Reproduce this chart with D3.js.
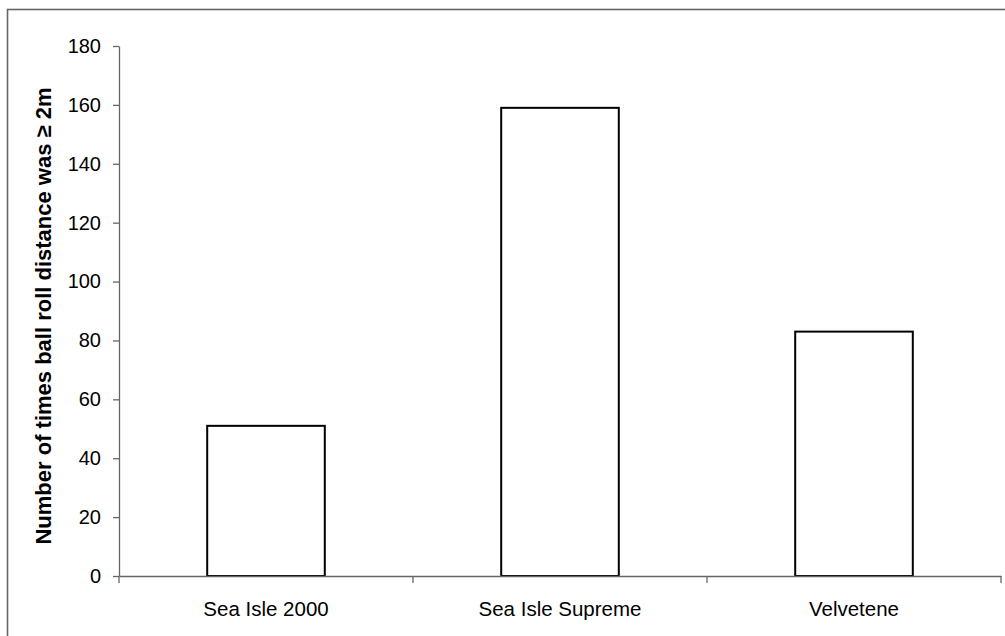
<!DOCTYPE html>
<html><head><meta charset="utf-8">
<script src="https://cdn.jsdelivr.net/npm/d3@7"></script>
<style>body{margin:0;background:#fff}svg{display:block}</style>
</head><body>
<svg id="c" width="1005" height="636"></svg>
<script>
const categories = ["Sea Isle 2000", "Sea Isle Supreme", "Velvetene"];
const values = [51, 159, 83];
const yTicks = [0, 20, 40, 60, 80, 100, 120, 140, 160, 180];
const yLabel = "Number of times ball roll distance was \u2265 2m";

(function () {
const svg = d3.select("#c");
const font = "Arial, 'Liberation Sans', sans-serif";
svg.append("rect").attr("x", 7.5).attr("y", 9.5).attr("width", 1010).attr("height", 640)
  .attr("fill", "#fff").attr("stroke", "#666").attr("stroke-width", 1.6);

const mL = 119, mR = 1001, mT = 46, mB = 576;
const x = d3.scaleBand().domain(categories).range([mL, mR]).paddingInner(0.6).paddingOuter(0.3);
const y = d3.scaleLinear().domain([0, 180]).range([mB, mT]);

// bars
svg.selectAll("rect.bar").data(values).join("rect").attr("class", "bar")
  .attr("x", (d, i) => x(categories[i]))
  .attr("y", d => y(d))
  .attr("width", x.bandwidth())
  .attr("height", d => y(0) - y(d))
  .attr("fill", "#fff").attr("stroke", "#000").attr("stroke-width", 2);

// y axis
const ya = svg.append("g").attr("transform", `translate(${mL},0)`)
  .call(d3.axisLeft(y).tickValues(yTicks).tickSize(6).tickSizeOuter(0).tickPadding(12));
ya.select(".domain").attr("stroke", "#666").attr("stroke-width", 1.3);
ya.selectAll(".tick line").attr("stroke", "#666").attr("stroke-width", 1.3);
ya.selectAll("text").attr("font-family", font).attr("font-size", 20).attr("fill", "#000");

// x axis
const xa = svg.append("g").attr("transform", `translate(0,${mB})`)
  .call(d3.axisBottom(x).tickSize(0).tickSizeOuter(0).tickPadding(25));
xa.select(".domain").attr("stroke", "#666").attr("stroke-width", 1.3);
xa.selectAll("text").attr("font-family", font).attr("font-size", 20.5).attr("fill", "#000");
const step = x.step();
const bounds = d3.range(categories.length + 1).map(i => mL + i * step);
xa.selectAll("line.bt").data(bounds).join("line").attr("class", "bt")
  .attr("x1", d => d).attr("x2", d => d).attr("y1", 0).attr("y2", 7)
  .attr("stroke", "#666").attr("stroke-width", 1.3);

// y label
svg.append("text").attr("transform", `translate(51,316) rotate(-90)`)
  .attr("text-anchor", "middle").attr("font-family", font).attr("font-size", 22)
  .attr("font-weight", "bold").text(yLabel);
})();
</script>
</body></html>
